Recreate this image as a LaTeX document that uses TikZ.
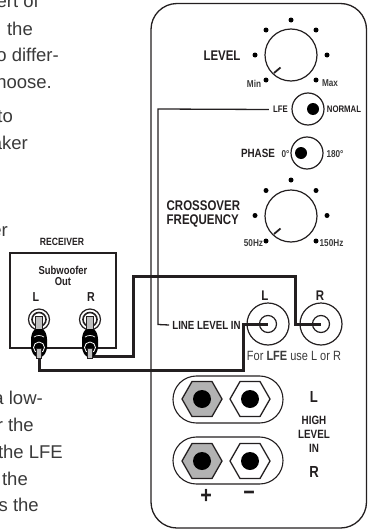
\documentclass[tikz,border=0pt]{standalone}
\usepackage{fontspec}
\setmainfont{Liberation Sans}
\newfontfamily\cond[FakeStretch=0.82]{Liberation Sans}
\definecolor{ink}{HTML}{231F20}
\definecolor{txt}{HTML}{3A3A3A}
\tikzset{
  x=1pt,y=-1pt,
  body/.style={font=\fontsize{18.5}{18.5}\selectfont,text=txt,anchor=base east,inner sep=0},
  lab/.style={font=\cond\fontsize{#1}{#1}\selectfont\bfseries,text=ink,inner sep=0},
  lab/.default=11,
  thin line/.style={draw=ink,line width=1.3pt},
  cable/.style={draw=ink,line width=3pt,line join=miter},
  knob/.style={circle,draw=ink,line width=1.2pt,minimum size=52pt,inner sep=0},
  sw/.style={circle,draw=ink,line width=1.2pt,minimum size=32pt,inner sep=0},
  blackdot/.style={circle,fill=black,inner sep=0,minimum size=#1},
  jackout/.style={circle,draw=ink,line width=1.2pt,minimum size=42pt,inner sep=0},
  jackin/.style={circle,draw=ink,line width=1.2pt,minimum size=17pt,inner sep=0},
  pill/.style={draw=ink,line width=1.1pt,rounded corners=23.4pt},
  hex/.style={draw=ink,line width=1.3pt,fill=#1},
}
\begin{document}
\begin{tikzpicture}
\useasboundingbox (0,0) rectangle (367,530);
\clip (0,0) rectangle (367,530);
% body text
\node[body] (t1) at (39,8)   {insert of};
\node[body] (t2) at (33,35)  {the};
\node[body] (t3) at (59,61)  {to differ-};
\node[body] (t4) at (52,88)  {choose.};
\node[body] (t5) at (13,122) {to};
\node[body] (t6) at (28,149) {speaker};
\node[body] (t7) at (8,236)  {woofer};
\node[body] (t8) at (43,404) {a low-};
\node[body] (t9) at (34,431) {for the};
\node[body] (t10) at (63,458){the LFE};
\node[body] (t11) at (28,485){the};
\node[body] (t12) at (39,511){is the};
% panel
\draw[thin line,rounded corners=26pt] (151,3.5) rectangle (366.5,528);
% LEVEL
\node[lab=14] (level) at (222,55.5) {LEVEL};
\node[knob] (k1) at (291,55) {};
\foreach \n/\a/\b in {a/291/20,b/266/30,c/316/30,d/255/55,e/327/55,f/266/80,g/316/80}
  \node[blackdot=5pt] (k1\n) at (\a,\b) {};
\coordinate (k1t1) at (274,73); \coordinate (k1t2) at (280.5,67.5);
\draw[draw=ink,line width=1.8pt] (k1t1) -- (k1t2);
\node[lab=10,text=txt] (min) at (254,83.5) {Min};
\node[lab=10,text=txt] (max) at (330,83.5) {Max};
% LFE switch
\node[sw] (s1) at (308,109) {};
\node[blackdot=12pt] (s1d) at (313,109) {};
\node[lab=9.5] (lfe) at (280.5,109.5) {LFE};
\node[lab=9.5] (normal) at (344,109.5) {NORMAL};
% PHASE
\node[lab=12] (phase) at (258,153) {PHASE};
\node[sw] (s2) at (307,153) {};
\node[blackdot=12pt] (s2d) at (301,153) {};
\node[lab=10,text=txt] (deg0) at (285.5,154) {0°};
\node[lab=10,text=txt] (deg180) at (335,154) {180°};
% CROSSOVER
\node[lab=14,anchor=west] (c1) at (166.5,206) {CROSSOVER};
\node[lab=14,anchor=west] (c2) at (166.5,221) {FREQUENCY};
\node[knob] (k2) at (291,216) {};
\foreach \n/\a/\b in {a/291/180,b/266/190.5,c/316/190.5,d/255/215.5,e/327/215.5,f/266/241,g/316/241}
  \node[blackdot=5pt] (k2\n) at (\a,\b) {};
\coordinate (k2t1) at (274,234); \coordinate (k2t2) at (280.5,228.5);
\draw[draw=ink,line width=1.8pt] (k2t1) -- (k2t2);
\node[lab=10,text=txt] (hz50) at (253.5,243.5) {50Hz};
\node[lab=10,text=txt] (hz150) at (331.5,243.5) {150Hz};
% Line jacks
\node[lab=14] (jl) at (265,296) {L};
\node[lab=14] (jr) at (320,296) {R};
\node[lab=11.8] (lli) at (206.5,325) {LINE LEVEL IN};
\node[jackout] (a1) at (268,324) {};
\node[jackin] (a2) at (268,324) {};
\node[jackout] (b1) at (321,324) {};
\node[jackin] (b2) at (321,324) {};
\node[font=\cond\fontsize{13.4}{13.4}\selectfont,text=txt,inner sep=0] (forlfe) at (294,356) {For {\bfseries LFE} use L or R};
% control line
\coordinate (c3) at (158,109);
\coordinate (c4) at (158,324.5);
\draw[thin line] ([xshift=-4pt]lfe.west) -- (c3) -- (c4) -- ([xshift=-3pt]lli.west);
% High level
\draw[pill] (173,376) rectangle (283,423);
\draw[pill] (173,437) rectangle (283,484);
\foreach \n/\cx/\cy/\f in {p/202/399/gray!60,q/250/399/white,r/202/461/gray!60,s/250/461/white}{
  \draw[hex=\f] (\cx-20,\cy) -- (\cx-10,\cy-17.5) -- (\cx+10,\cy-17.5) -- (\cx+20,\cy) -- (\cx+10,\cy+17.5) -- (\cx-10,\cy+17.5) -- cycle;
  \node[blackdot=18pt] (h\n) at (\cx,\cy) {};
}
\node[lab=16] (hl) at (314,397) {L};
\node[lab=12] (h1) at (314,420) {HIGH};
\node[lab=12] (h2) at (314,434) {LEVEL};
\node[lab=12] (h3) at (314,448) {IN};
\node[lab=16] (hr) at (314,472) {R};
\node[lab=24] (plus) at (206,496) {+};
\node[lab=24] (minus) at (249,496) {−};
% Receiver
\node[draw=ink,line width=1.2pt,minimum width=106pt,minimum height=95pt,inner sep=0] (rx) at (63,300.5) {};
\node[lab=10.5] (rt) at (62,242) {RECEIVER};
\node[lab=11.5] (so1) at (63,270) {Subwoofer};
\node[lab=11.5] (so2) at (63,282) {Out};
\node[lab=13] (rl) at (36,297) {L};
\node[lab=13] (rr) at (91,297) {R};
% cables
\coordinate (lp) at (39,358);
\coordinate (rp) at (90,356);
\coordinate (cr1) at (133,356);
\coordinate (cr2) at (133,276);
\coordinate (cr3) at (295,276);
\coordinate (cr4) at (295,324);
\coordinate (cl1) at (39,370);
\coordinate (cl2) at (243,370);
\coordinate (cl3) at (243,324);
\draw[cable] (lp) -- (cl1) -- (cl2) -- (cl3) -- (a1.center);
\draw[cable] (rp) -- (cr1) -- (cr2) -- (cr3) -- (cr4) -- (b1.center);
% plugs
\foreach \n/\cx in {l/39,r/90}{
  \node[circle,draw=ink,line width=1.2pt,fill=white,minimum size=21pt,inner sep=0] (o\n) at (\cx,319.5) {};
  \node[circle,draw=ink,line width=1.6pt,fill=white,minimum size=14pt,inner sep=0] (i\n) at (\cx,319.5) {};
  \filldraw[fill=gray!50,draw=ink,line width=.8pt] (\cx-3.5,316) rectangle (\cx+3.5,334);
  \fill[black,rounded corners=3pt] (\cx-5,329) -- (\cx+5,329) -- (\cx+8,336) -- (\cx+8,350) -- (\cx+4,357) -- (\cx-4,357) -- (\cx-8,350) -- (\cx-8,336) -- cycle;
  \draw[white,line width=.7pt] (\cx-5,337) .. controls (\cx-2,335) and (\cx+2,335) .. (\cx+5,337);
  \node[circle,draw=white,line width=.8pt,minimum size=11pt,inner sep=0] (w\n) at (\cx,347.5) {};
  \filldraw[fill=gray!50,draw=ink,line width=.6pt] (\cx-2.5,348) rectangle (\cx+2.5,358);
}
\end{tikzpicture}
\end{document}
